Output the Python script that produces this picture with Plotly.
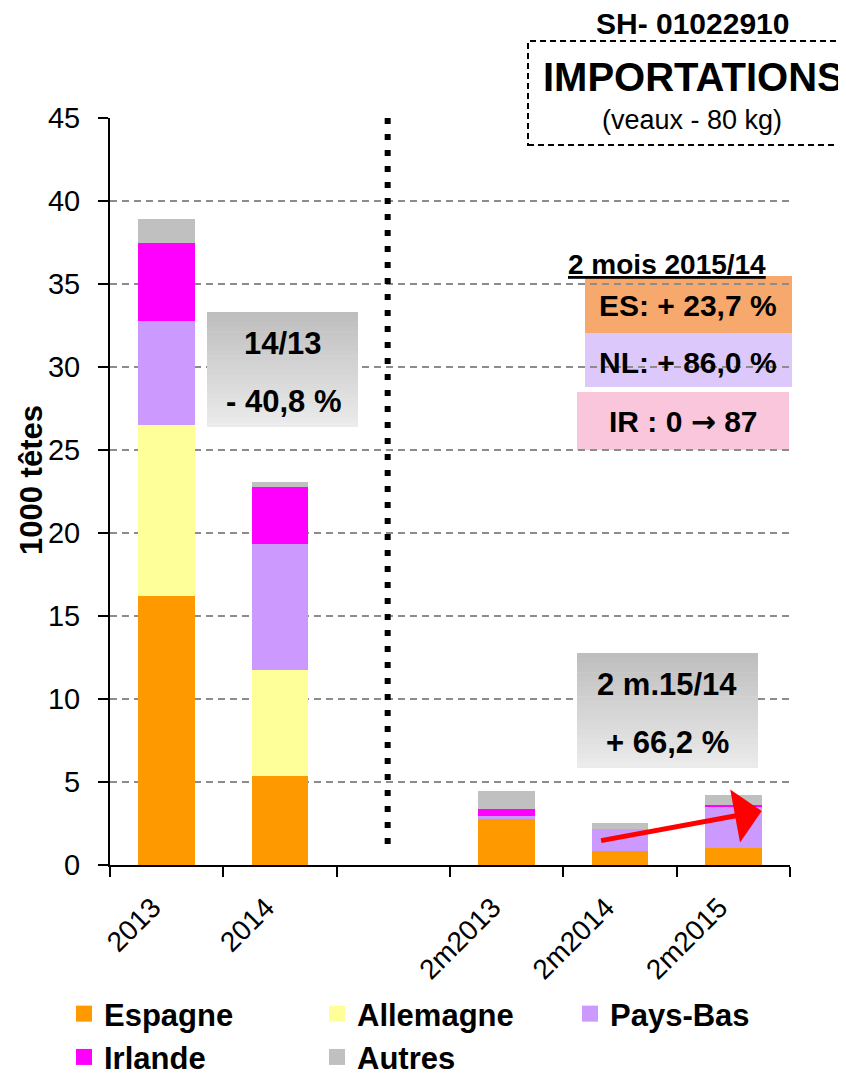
import plotly.graph_objects as go

# values in 1000 heads
categories = ["2013", "2014", "\u00a0", "2m2013", "2m2014", "2m2015"]
espagne = [16.2, 5.35, None, 2.75, 0.85, 1.05]
allemagne = [10.3, 6.4, None, 0, 0, 0]
pays_bas = [6.3, 7.6, None, 0.2, 1.3, 2.42]
irlande = [4.7, 3.45, None, 0.4, 0, 0.14]
autres = [1.4, 0.3, None, 1.1, 0.4, 0.6]

series = [
    ("Espagne", espagne, "#FF9900"),
    ("Allemagne", allemagne, "#FFFF99"),
    ("Pays-Bas", pays_bas, "#CC99FF"),
    ("Irlande", irlande, "#FF00FF"),
    ("Autres", autres, "#C0C0C0"),
]

# the page body adds an 8px offset, so the figure is 8px smaller than the window
OFF = 8
W, H = 846 - OFF, 1075 - OFF
ML, MR, MT, MB = 110 - OFF, 56, 118 - OFF, 210
PW, PH = W - ML - MR, H - MT - MB
FONT = "Liberation Sans, Arial, sans-serif"


# helpers: screen pixel (window coords) -> paper coords
def px_x(p):
    return (p - OFF - ML) / PW


def px_y(p):
    return (H - MB - (p - OFF)) / PH


fig = go.Figure()
for name, vals, col in series:
    fig.add_trace(go.Bar(x=categories, y=vals, name=name, marker_color=col,
                         marker_line_width=0, showlegend=False))
    # legend swatch
    fig.add_trace(go.Scatter(x=[None], y=[None], mode="markers", name=name,
                             marker=dict(symbol="square", size=21, color=col)))

shapes = []
annotations = []

# dotted separator
shapes.append(dict(type="line", xref="x", yref="y", x0=1.95, x1=1.95, y0=45, y1=0.7,
                   line=dict(color="black", width=6, dash="6px,10px")))

# title box
shapes.append(dict(type="rect", xref="paper", yref="paper",
                   x0=px_x(528), x1=px_x(860), y0=px_y(145), y1=px_y(41),
                   fillcolor="white", line=dict(color="black", width=2, dash="6px,4px")))


def grad_box(x0, x1, y0, y1, n=24):
    top = (190, 190, 190)
    bot = (235, 235, 235)
    h = (y1 - y0) / n
    for i in range(n):
        t = i / (n - 1)
        c = tuple(round(top[k] + (bot[k] - top[k]) * t) for k in range(3))
        shapes.append(dict(type="rect", xref="paper", yref="paper",
                           x0=px_x(x0), x1=px_x(x1),
                           y0=px_y(y0 + i * h), y1=px_y(min(y1, y0 + (i + 1) * h + 0.6)),
                           fillcolor="rgb(%d,%d,%d)" % c, line=dict(width=0), layer="above"))


grad_box(207, 358, 312, 427)
grad_box(577, 758, 653, 768)

# coloured comment boxes (below the grid)
for x0, x1, y0, y1, col in [(585, 792, 276, 333, "#F7A86C"),
                            (585, 792, 333, 387, "#DCC8FA"),
                            (577, 789, 392, 450, "#F9C6DC")]:
    shapes.append(dict(type="rect", xref="paper", yref="paper",
                       x0=px_x(x0), x1=px_x(x1), y0=px_y(y1), y1=px_y(y0),
                       fillcolor=col, line=dict(width=0), layer="below"))


def label(text, x, y, size, bold=True, angle=0):
    annotations.append(dict(text="<b>%s</b>" % text if bold else text,
                            xref="paper", yref="paper", x=px_x(x), y=px_y(y),
                            xanchor="center", yanchor="middle", showarrow=False,
                            textangle=angle,
                            font=dict(family=FONT, size=size, color="black")))


label("SH- 01022910", 692, 24, 30)
label("IMPORTATIONS", 693, 77, 40)
label("(veaux - 80 kg)", 692, 120, 27, bold=False)
label("<u>2 mois 2015/14</u>", 667, 264, 28)
label("ES: + 23,7 %", 688, 305, 30)
label("NL: + 86,0 %", 688, 362, 30)
label("IR : 0 <span style='font-family:DejaVu Sans'>→</span> 87", 683, 421, 30)
label("14/13", 283, 343, 31)
label("- 40,8 %", 283, 401, 31)
label("2 m.15/14", 667, 684, 31)
label("+ 66,2 %", 667, 742, 31)
label("1000 têtes", 31, 480, 31, angle=-90)

# red trend arrow
annotations.append(dict(x=5.25, y=3.25, ax=3.82, ay=1.45, xref="x", yref="y",
                        axref="x", ayref="y", text="", showarrow=True,
                        arrowhead=1, arrowsize=1.8, arrowwidth=5, arrowcolor="#FF0000"))

fig.update_layout(
    template="none",
    width=W, height=H,
    margin=dict(l=ML, r=MR, t=MT, b=MB, autoexpand=False),
    paper_bgcolor="white", plot_bgcolor="white",
    barmode="stack", bargap=0.5,
    font=dict(family=FONT, color="black"),
    shapes=shapes, annotations=annotations,
    showlegend=True,
    legend=dict(orientation="h", xref="paper", yref="paper",
                x=(56 - ML) / PW, y=(H - MB - 979) / PH, xanchor="left", yanchor="top",
                traceorder="normal",
                entrywidth=208, entrywidthmode="pixels",
                font=dict(family=FONT, size=31, color="black", weight="bold"),
                bgcolor="rgba(0,0,0,0)", itemclick=False),
)

fig.update_xaxes(
    type="category", categoryorder="array", categoryarray=categories,
    range=[-0.5, 5.5], autorange=False,
    tickson="boundaries", ticks="outside", ticklen=10, tickwidth=2, tickcolor="black",
    showline=True, linecolor="black", linewidth=2, showgrid=False, zeroline=False,
    tickangle=-45, tickfont=dict(family=FONT, size=28, color="black"),
    ticklabelstandoff=13, ticklabelshift=-14,
)
fig.update_yaxes(
    range=[0, 45], autorange=False, dtick=5, tick0=0,
    ticks="outside", ticklen=10, tickwidth=2, tickcolor="black",
    showline=True, linecolor="black", linewidth=2, zeroline=False,
    showgrid=True, gridcolor="#8C8C8C", gridwidth=2, griddash="7px,5px",
    tickfont=dict(family=FONT, size=29, color="black"), ticklabelstandoff=12,
)

fig.write_html("out.html")
